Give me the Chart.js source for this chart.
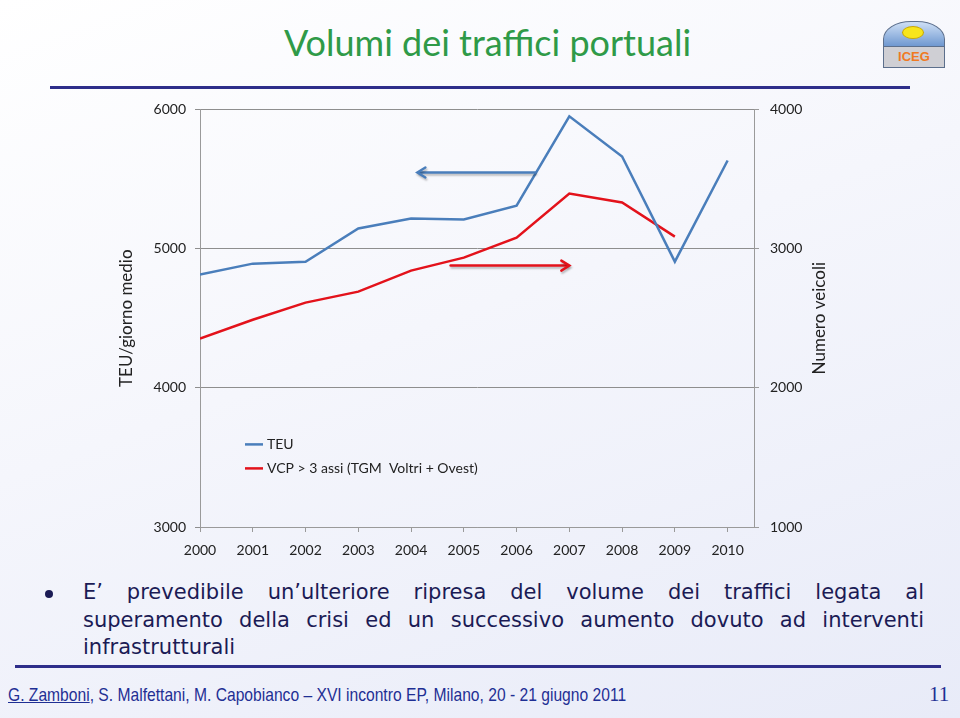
<!DOCTYPE html>
<html>
<head>
<meta charset="utf-8">
<script src="https://cdn.jsdelivr.net/npm/chart.js@4.4.1/dist/chart.umd.min.js"></script>
<style>
  body { margin: 0; width: 960px; height: 718px; overflow: hidden; position: relative;
         background: linear-gradient(160deg, #ffffff 0%, #f5f6fc 45%, #e8ebf8 100%);
         font-family: Lato, sans-serif; }
  #title { position: absolute; left: 0; width: 975px; top: 20px; text-align: center;
           color: #2f9a48; font-size: 36px; }
  .rule { position: absolute; height: 3px; background: #2e2e8a; }
  #chartBox { position: absolute; left: 100px; top: 90px; width: 760px; height: 485px; }
  #bullet { position: absolute; left: 83px; top: 579px; width: 841px; color: #1b1b55;
            font-family: "DejaVu Sans", Verdana, sans-serif; font-size: 21px; line-height: 27.5px; }
  #bullet div { text-align: justify; text-align-last: justify; white-space: nowrap; }
  #bullet div.last { text-align-last: left; }
  #dot { position: absolute; left: 45px; top: 590px; width: 8px; height: 8px; border-radius: 50%; background: #1b1b55; }
  #footer { position: absolute; left: 8px; top: 684px; color: #1f2f94; white-space: nowrap;
            font-family: "Liberation Sans Narrow", "Arial Narrow", "Liberation Sans", sans-serif; font-size: 18.5px;
            transform: scaleX(0.845); transform-origin: left center; }
  #footer u { text-decoration-thickness: 1px; }
  #page { position: absolute; left: 929px; top: 682px; color: #1f2f94;
          font-family: "Liberation Serif", serif; font-size: 21px; }
  #logo { position: absolute; left: 883px; top: 21px; width: 62px; height: 47px; }
  #logo .arch { position: absolute; left: 0; top: 0; width: 62px; height: 26px;
                border-radius: 28px 28px 0 0 / 18px 18px 0 0; background: linear-gradient(#cfe0f6, #6f98d0);
                border: 1px solid #5c6f8c; box-sizing: border-box; }
  #logo .sun { position: absolute; left: 20px; top: 6px; width: 20px; height: 11px;
               border-radius: 50%; background: #f7e51c; box-shadow: 0 0 0 1px #c9a800; }
  #logo .plate { position: absolute; left: 0; top: 25px; width: 62px; height: 22px;
                 background: #cfcfd4; border: 1px solid #5c6f8c; box-sizing: border-box;
                 color: #f07a22; font-family: "Liberation Sans", Arial, sans-serif;
                 font-weight: bold; font-size: 13px; text-align: center; line-height: 20px; }
</style>
</head>
<body>
<div id="title">Volumi dei traffici portuali</div>
<div id="logo"><div class="arch"></div><div class="sun"></div><div class="plate">ICEG</div></div>
<div class="rule" style="left:50px;top:86px;width:860px;"></div>

<div id="chartBox"><canvas id="chart" width="760" height="485"></canvas></div>

<div id="dot"></div>
<div id="bullet">
  <div>E’ prevedibile un’ulteriore ripresa del volume dei traffici legata al</div>
  <div>superamento della crisi ed un successivo aumento dovuto ad interventi</div>
  <div class="last">infrastrutturali</div>
</div>

<div class="rule" style="left:15px;top:665px;width:926px;"></div>
<div id="footer"><u>G. Zamboni</u>, S. Malfettani, M. Capobianco – XVI incontro EP, Milano, 20 - 21 giugno 2011</div>
<div id="page">11</div>

<script>
// --- data ---
const years = [2000, 2001, 2002, 2003, 2004, 2005, 2006, 2007, 2008, 2009, 2010];
const teu = [4813, 4892, 4906, 5144, 5216, 5209, 5309, 5950, 5662, 4906, 5633]; // TEU/giorno medio (left)
const vcp = [2353, 2489, 2612, 2691, 2842, 2935, 3079, 3396, 3331, 3086, null]; // VCP > 3 assi (right)
const leftTicks = [3000, 4000, 5000, 6000];
const rightTicks = [1000, 2000, 3000, 4000];
const seriesNames = ['TEU', 'VCP > 3 assi (TGM  Voltri + Ovest)'];

const BLUE = '#4a7ebb';
const RED = '#e3121b';
const AXIS = '#9a9a9a';
const TXT = '#222';

function points(vals) {
    return years.map((yr, i) => ({ x: yr, y: vals[i] })).filter(p => p.y !== null);
}

// arrows in data units: [x from, x to, y value, axis]
const arrows = [
    { from: 2006.35, to: 2004.12, y: 5547, axis: 'yL', color: BLUE },
    { from: 2004.75, to: 2007.0, y: 4878, axis: 'yL', color: RED }
];

const decorPlugin = {
    id: 'decor',
    afterDatasetsDraw(chart) {
        const ctx = chart.ctx;
        const xs = chart.scales.x;
        // arrows
        arrows.forEach(a => {
            const ys = chart.scales[a.axis];
            const x1 = xs.getPixelForValue(a.from), x2 = xs.getPixelForValue(a.to);
            const y = ys.getPixelForValue(a.y);
            const dir = Math.sign(x2 - x1);
            ctx.save();
            ctx.shadowColor = 'rgba(0,0,0,0.25)';
            ctx.shadowOffsetX = 1; ctx.shadowOffsetY = 2; ctx.shadowBlur = 2;
            ctx.strokeStyle = a.color; ctx.lineWidth = 2.5; ctx.lineCap = 'round';
            ctx.beginPath(); ctx.moveTo(x1, y); ctx.lineTo(x2 - dir * 2, y); ctx.stroke();
            ctx.beginPath();
            ctx.moveTo(x2 - dir * 8, y - 5); ctx.lineTo(x2, y); ctx.lineTo(x2 - dir * 8, y + 5);
            ctx.stroke();
            ctx.restore();
        });
        // legend inside plot area
        const area = chart.chartArea;
        const lx = area.left + 45;
        const rows = [{ c: BLUE, y: area.top + 335 }, { c: RED, y: area.top + 359 }];
        ctx.save();
        ctx.font = '14px Lato, sans-serif';
        ctx.fillStyle = TXT;
        ctx.textBaseline = 'middle';
        rows.forEach((r, i) => {
            ctx.strokeStyle = r.c; ctx.lineWidth = 2.5;
            ctx.beginPath(); ctx.moveTo(lx, r.y); ctx.lineTo(lx + 18, r.y); ctx.stroke();
            ctx.fillText(seriesNames[i], lx + 22, r.y);
        });
        // right axis title, reading bottom to top like the left one
        ctx.font = '17px Lato, sans-serif';
        ctx.textAlign = 'center';
        ctx.translate(chart.scales.yR.right - 40, (area.top + area.bottom) / 2);
        ctx.rotate(-Math.PI / 2);
        ctx.fillText('Numero veicoli', 0, 0);
        ctx.restore();
    }
};

new Chart(document.getElementById('chart'), {
    type: 'line',
    data: {
        datasets: [
            { label: seriesNames[0], data: points(teu), yAxisID: 'yL', borderColor: BLUE, borderWidth: 2.5, pointRadius: 0, tension: 0 },
            { label: seriesNames[1], data: points(vcp), yAxisID: 'yR', borderColor: RED, borderWidth: 2.5, pointRadius: 0, tension: 0 }
        ]
    },
    options: {
        responsive: false,
        animation: false,
        devicePixelRatio: 1,
        layout: { padding: { top: 10, left: 0, right: 0, bottom: 0 } },
        plugins: { legend: { display: false }, tooltip: { enabled: false } },
        scales: {
            x: {
                type: 'linear', min: years[0], max: years[years.length - 1] + 0.5,
                afterBuildTicks: s => { s.ticks = years.map(v => ({ value: v })); },
                ticks: { callback: v => String(v), color: TXT, font: { family: 'Lato', size: 14 }, padding: 10, maxRotation: 0, autoSkip: false },
                grid: { drawOnChartArea: false, color: AXIS, tickLength: 5 },
                border: { color: AXIS },
                afterFit: s => { s.height = 48; }
            },
            yL: {
                position: 'left', min: leftTicks[0], max: leftTicks[leftTicks.length - 1],
                afterBuildTicks: s => { s.ticks = leftTicks.map(v => ({ value: v })); },
                ticks: { callback: v => String(v), color: TXT, font: { family: 'Lato', size: 14 }, padding: 9 },
                grid: { color: '#8e8e8e', tickLength: 5 },
                border: { color: AXIS },
                title: { display: true, text: 'TEU/giorno medio', color: TXT, font: { family: 'Lato', size: 17 }, padding: { top: 16, bottom: 0 } },
                afterFit: s => { s.width = 100; }
            },
            yR: {
                position: 'right', min: rightTicks[0], max: rightTicks[rightTicks.length - 1],
                afterBuildTicks: s => { s.ticks = rightTicks.map(v => ({ value: v })); },
                ticks: { callback: v => String(v), color: TXT, font: { family: 'Lato', size: 14 }, padding: 11 },
                grid: { drawOnChartArea: false, color: AXIS, tickLength: 5 },
                border: { color: AXIS },
                afterFit: s => { s.width = 106; }
            }
        }
    },
    plugins: [decorPlugin]
});
</script>
</body>
</html>
